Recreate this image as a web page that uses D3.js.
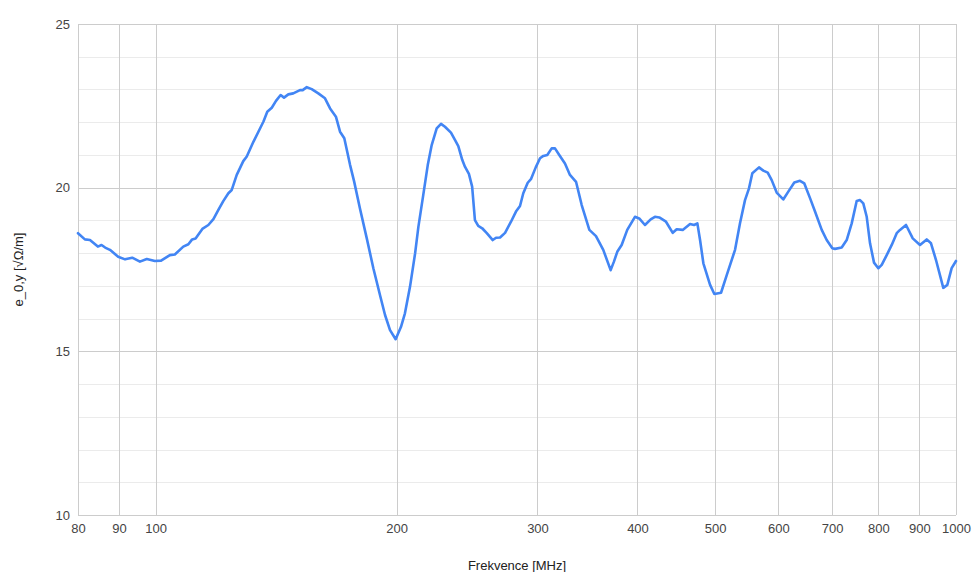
<!DOCTYPE html>
<html>
<head>
<meta charset="utf-8">
<script src="https://cdn.jsdelivr.net/npm/d3@7"></script>
<style>
  html, body { margin: 0; padding: 0; background: #fff; }
  svg { display: block; font-family: Arial, "Liberation Sans", sans-serif; }
</style>
</head>
<body>
<svg id="chart" width="973" height="572"></svg>
<script>
// Frequency [MHz]
const freq = [80.0, 81.6, 82.8, 84.7, 85.6, 86.5, 87.7, 89.8, 91.6, 93.5, 95.6, 97.5, 99.8, 101.6, 104.2, 105.7, 108.3, 109.9, 111.1, 112.2,
  114.4, 116.4, 118.1, 119.8, 121.5, 123.3, 124.5, 126.3, 128.7, 130.0, 132.5, 136.4, 137.9, 139.7, 141.4, 143.3, 144.7, 146.5, 148.6, 151.5,
  152.7, 154.5, 156.7, 159.7, 162.8, 165.2, 168.0, 170.0, 172.1, 175.0, 177.0, 180.0, 183.6, 187.1, 190.7, 193.5, 196.3, 199.5, 202.6, 204.9,
  207.9, 211.0, 213.0, 216.0, 218.8, 221.3, 224.5, 227.3, 229.9, 233.9, 236.6, 238.9, 241.6, 243.5, 246.3, 248.6, 250.6, 253.0, 255.9, 259.3,
  263.8, 266.3, 269.4, 273.3, 278.0, 282.0, 285.3, 288.0, 291.7, 294.4, 298.5, 302.2, 305.1, 308.6, 312.5, 315.5, 319.4, 324.7, 329.4, 335.2,
  340.7, 348.3, 355.0, 362.5, 370.3, 373.8, 377.4, 382.2, 388.4, 397.1, 402.0, 408.7, 415.5, 420.6, 425.9, 434.2, 442.7, 447.8, 455.6, 465.3,
  470.7, 475.2, 478.9, 483.5, 492.9, 499.0, 508.7, 517.1, 529.6, 537.2, 545.0, 551.3, 556.6, 567.4, 574.5, 581.8, 588.5, 597.0, 608.4, 617.3,
  628.0, 638.4, 646.4, 657.1, 666.6, 679.6, 689.4, 700.6, 706.1, 719.8, 730.2, 740.8, 751.5, 758.7, 765.9, 773.5, 780.9, 789.9, 799.7, 807.6,
  819.3, 831.2, 843.2, 851.2, 866.1, 883.0, 901.6, 919.2, 930.6, 944.1, 964.1, 975.3, 987.6, 1000.0];

// e_0,y [√Ω/m]
const e0y = [18.61, 18.42, 18.40, 18.20, 18.25, 18.17, 18.10, 17.89, 17.81, 17.86, 17.74, 17.82, 17.76, 17.77, 17.94, 17.96, 18.20, 18.27, 18.42, 18.45,
  18.74, 18.86, 19.04, 19.32, 19.59, 19.83, 19.93, 20.39, 20.81, 20.95, 21.40, 22.02, 22.32, 22.44, 22.65, 22.83, 22.75, 22.85, 22.88, 22.98,
  22.98, 23.07, 23.01, 22.88, 22.73, 22.42, 22.17, 21.71, 21.51, 20.69, 20.20, 19.37, 18.45, 17.54, 16.72, 16.11, 15.65, 15.37, 15.75, 16.16,
  16.97, 18.00, 18.81, 19.78, 20.69, 21.30, 21.81, 21.95, 21.86, 21.68, 21.46, 21.27, 20.85, 20.64, 20.42, 20.03, 19.01, 18.83, 18.76, 18.61,
  18.40, 18.47, 18.48, 18.62, 18.96, 19.27, 19.44, 19.83, 20.15, 20.26, 20.62, 20.90, 20.97, 21.00, 21.20, 21.20, 21.00, 20.74, 20.39, 20.18,
  19.47, 18.71, 18.52, 18.10, 17.48, 17.74, 18.04, 18.25, 18.71, 19.11, 19.06, 18.86, 19.03, 19.11, 19.09, 18.96, 18.62, 18.73, 18.71, 18.89,
  18.86, 18.91, 18.40, 17.69, 17.03, 16.75, 16.79, 17.33, 18.10, 18.91, 19.62, 19.98, 20.44, 20.62, 20.52, 20.46, 20.23, 19.85, 19.64, 19.88,
  20.16, 20.21, 20.13, 19.68, 19.27, 18.71, 18.40, 18.15, 18.13, 18.17, 18.40, 18.91, 19.59, 19.62, 19.52, 19.11, 18.30, 17.71, 17.54, 17.64,
  17.94, 18.25, 18.61, 18.71, 18.86, 18.45, 18.25, 18.42, 18.30, 17.79, 16.94, 17.03, 17.54, 17.76];

const xTicks = [80, 90, 100, 200, 300, 400, 500, 600, 700, 800, 900, 1000];
const yTicks = [10, 15, 20, 25];
const yMinor = [11, 12, 13, 14, 16, 17, 18, 19, 21, 22, 23, 24];
const xTitle = "Frekvence [MHz]";
const yTitle = "e_0,y [√Ω/m]";

const margin = { left: 78, right: 17, top: 24, bottom: 57 };
const W = 973, H = 572;
const svg = d3.select("#chart");

const x = d3.scaleLog().domain([80, 1000]).range([margin.left, W - margin.right]);
const y = d3.scaleLinear().domain([10, 25]).range([H - margin.bottom, margin.top]);

const g = svg.append("g");

// minor horizontal gridlines
g.selectAll(".minor").data(yMinor).enter().append("line")
  .attr("x1", x(80)).attr("x2", x(1000))
  .attr("y1", d => Math.round(y(d)) + 0.5).attr("y2", d => Math.round(y(d)) + 0.5)
  .attr("stroke", "#ebebeb").attr("stroke-width", 1);

// major horizontal gridlines
g.selectAll(".major").data(yTicks).enter().append("line")
  .attr("x1", x(80)).attr("x2", x(1000))
  .attr("y1", d => Math.round(y(d)) + 0.5).attr("y2", d => Math.round(y(d)) + 0.5)
  .attr("stroke", "#cccccc").attr("stroke-width", 1);

// vertical gridlines
g.selectAll(".vgrid").data(xTicks).enter().append("line")
  .attr("x1", d => Math.round(x(d)) + 0.5).attr("x2", d => Math.round(x(d)) + 0.5)
  .attr("y1", y(25)).attr("y2", y(10))
  .attr("stroke", "#cccccc").attr("stroke-width", 1);

// x axis labels (via d3 axis)
const xAxis = d3.axisBottom(x).tickValues(xTicks).tickFormat(d3.format("d")).tickSize(0).tickPadding(9);
const xa = svg.append("g").attr("transform", `translate(0,${y(10)})`).call(xAxis);
xa.select(".domain").remove();
xa.selectAll("text").attr("fill", "#444").attr("font-size", 13).attr("font-family", "Arial, 'Liberation Sans', sans-serif");

// y axis labels
const yAxis = d3.axisLeft(y).tickValues(yTicks).tickFormat(d3.format("d")).tickSize(0).tickPadding(8);
const ya = svg.append("g").attr("transform", `translate(${x(80)},0)`).call(yAxis);
ya.select(".domain").remove();
ya.selectAll("text").attr("fill", "#444").attr("font-size", 13).attr("font-family", "Arial, 'Liberation Sans', sans-serif");

// line
const line = d3.line().x((d, i) => x(freq[i])).y(d => y(d)).curve(d3.curveLinear);
svg.append("path").datum(e0y)
  .attr("d", line)
  .attr("fill", "none")
  .attr("stroke", "#4285f4")
  .attr("stroke-width", 2.6)
  .attr("stroke-linejoin", "round")
  .attr("stroke-linecap", "round");

// axis titles
svg.append("text")
  .attr("x", (x(80) + x(1000)) / 2).attr("y", 570)
  .attr("text-anchor", "middle")
  .attr("fill", "#222").attr("font-size", 13)
  .text(xTitle);

svg.append("text")
  .attr("transform", `translate(23,${(y(10) + y(25)) / 2}) rotate(-90)`)
  .attr("text-anchor", "middle")
  .attr("fill", "#222").attr("font-size", 13)
  .text(yTitle);
</script>
</body>
</html>
